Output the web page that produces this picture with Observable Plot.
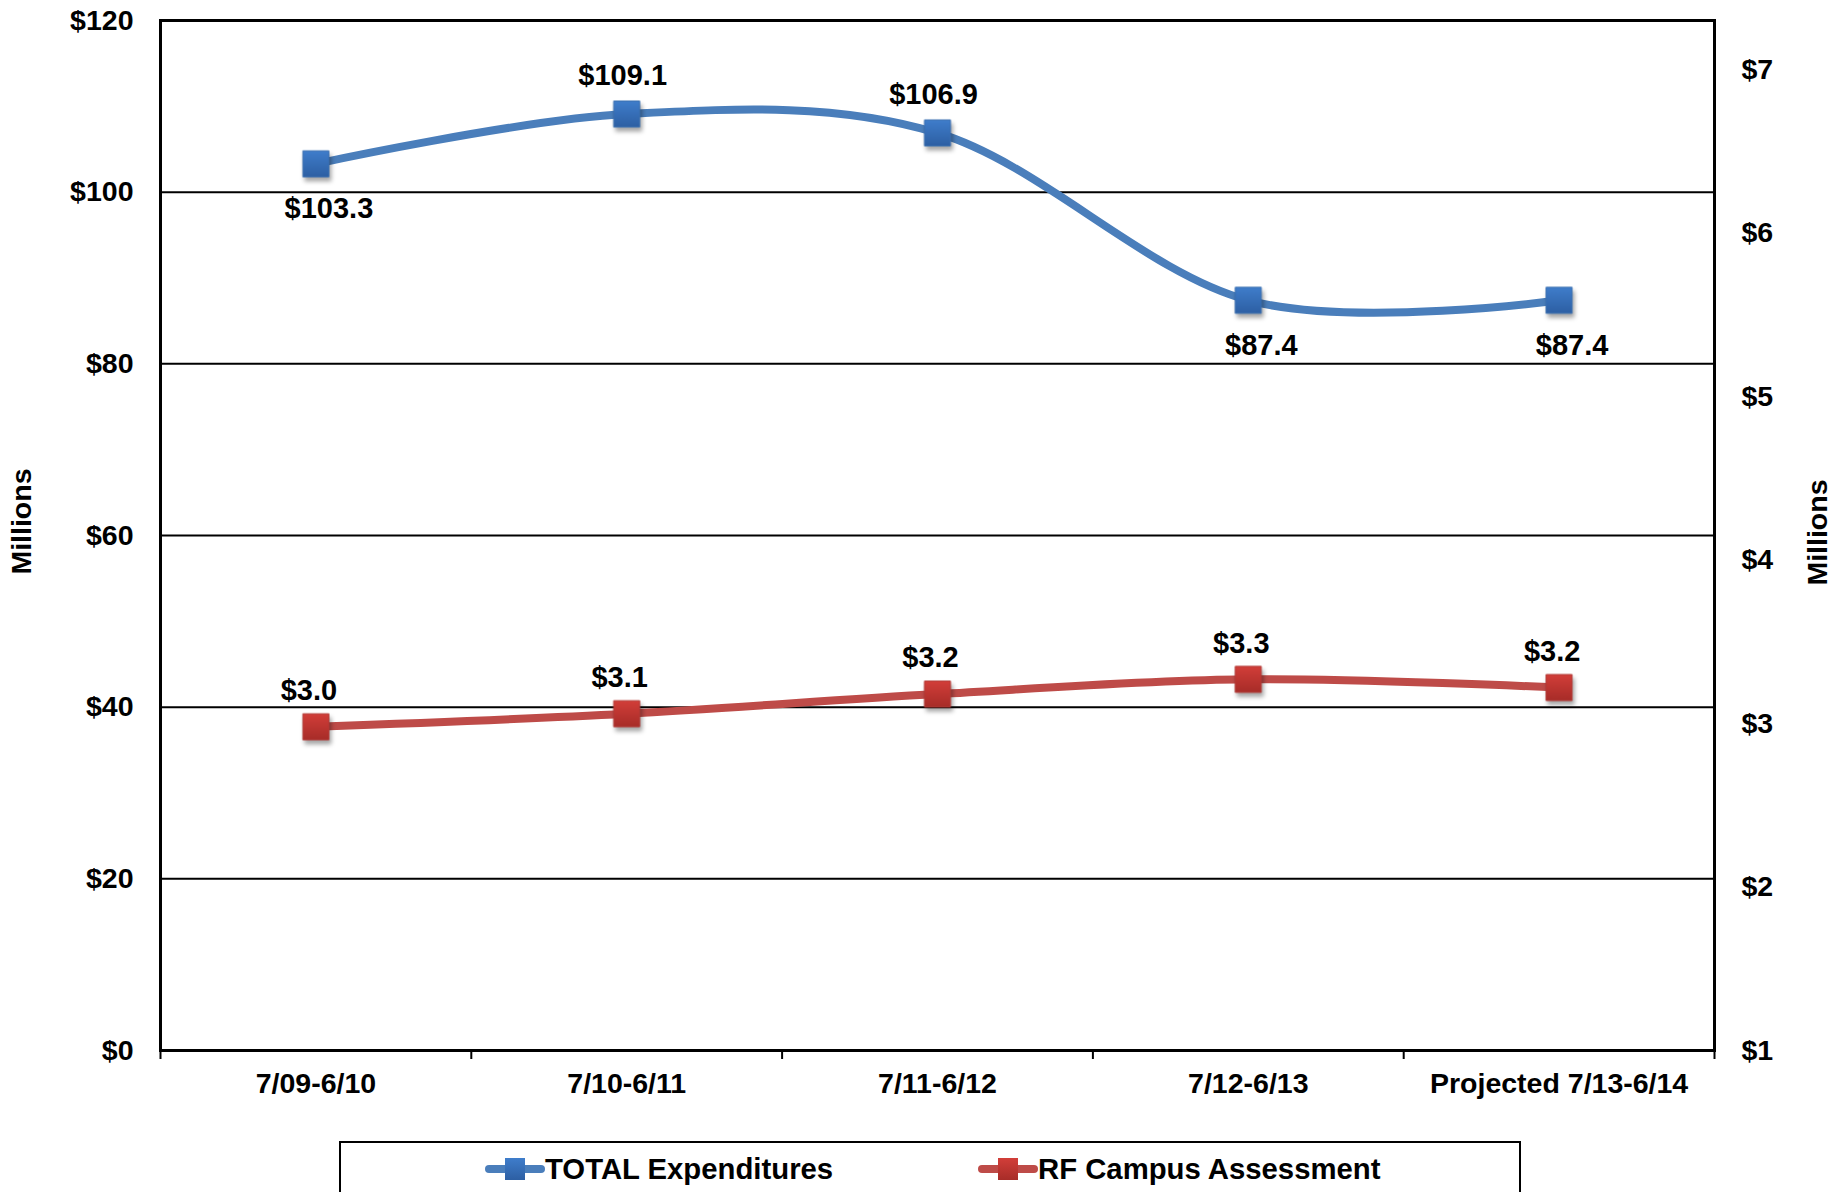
<!DOCTYPE html>
<html>
<head>
<meta charset="utf-8">
<script src="https://cdn.jsdelivr.net/npm/d3@7"></script>
<script src="https://cdn.jsdelivr.net/npm/@observablehq/plot@0.6"></script>
<style>
  html, body { margin: 0; padding: 0; background: #fff; }
  body { width: 1835px; height: 1192px; overflow: hidden; font-family: "Liberation Sans", Arial, sans-serif; font-weight: bold; }
  #chart svg { display: block; }
  .shadow { filter: drop-shadow(2px 4px 2px rgba(0,0,0,0.35)); }
  #legend {
    position: absolute; left: 339px; top: 1141px; width: 1182px; height: 60px;
    border: 2px solid #000; box-sizing: border-box; background: #fff;
    font-size: 29.3px; color: #000;
  }
  .item { position: absolute; top: 9px; display: flex; align-items: center; height: 34px; }
</style>
</head>
<body>
<div id="chart"></div>
<div id="legend"></div>
<script>
// ---- data ----
const categories = ["7/09-6/10", "7/10-6/11", "7/11-6/12", "7/12-6/13", "Projected 7/13-6/14"];
const totalExpenditures = [103.3, 109.1, 106.9, 87.4, 87.4];
const rfCampusAssessment = [2.98, 3.06, 3.18, 3.27, 3.22];
const totalLabelPos = ["below", "above", "above", "below", "below"];
const leftTicks = [0, 20, 40, 60, 80, 100, 120];
const rightTicks = [1, 2, 3, 4, 5, 6, 7];
const seriesNames = ["TOTAL Expenditures", "RF Campus Assessment"];

// ---- scales mapping ----
const LEFT_MAX = 120;
const RIGHT_MIN = 1, RIGHT_MAX = 7.3;
const toLeft = v => (v - RIGHT_MIN) / (RIGHT_MAX - RIGHT_MIN) * LEFT_MAX;
const fromLeft = y => y / LEFT_MAX * (RIGHT_MAX - RIGHT_MIN) + RIGHT_MIN;

const blue = totalExpenditures.map((v, i) => ({i, x: i + 0.5, y: v, label: "$" + v.toFixed(1), pos: totalLabelPos[i]}));
const red = rfCampusAssessment.map((v, i) => ({i, x: i + 0.5, y: toLeft(v), label: "$" + v.toFixed(1)}));

const TICKFONT = 28.5;
const LABELFONT = 29;
const blueLine = "#4A7EBB", redLine = "#BE4B48";

const plot = Plot.plot({
  width: 1835,
  height: 1130,
  marginLeft: 160,
  marginRight: 121,
  marginTop: 20,
  marginBottom: 80,
  style: {fontFamily: '"Liberation Sans", Arial, sans-serif', fontWeight: "bold", fontSize: TICKFONT + "px", color: "#000", background: "#fff"},
  x: {domain: [0, categories.length], axis: null},
  y: {domain: [0, LEFT_MAX], axis: null},
  marks: [
    Plot.ruleY(leftTicks.filter(d => d > 0 && d < LEFT_MAX), {stroke: "#000", strokeWidth: 2}),
    Plot.frame({stroke: "#000", strokeWidth: 3}),
    // x ticks at band boundaries
    Plot.axisX(d3.range(categories.length + 1), {anchor: "bottom", tickSize: 9, tickFormat: () => "", stroke: "#000", strokeWidth: 2, label: null}),
    Plot.axisX(categories.map((c, i) => i + 0.5), {anchor: "bottom", tickSize: 0, tickPadding: 22, tickFormat: d => categories[Math.floor(d)], fontSize: TICKFONT, label: null}),
    Plot.axisY(leftTicks, {anchor: "left", tickSize: 0, tickPadding: 27, tickFormat: d => "$" + d, fontSize: TICKFONT, label: null}),
    Plot.axisY(rightTicks.map(toLeft), {anchor: "right", tickSize: 0, tickPadding: 27, tickFormat: d => "$" + Math.round(fromLeft(d)), fontSize: TICKFONT, label: null}),
    Plot.text(["Millions"], {frameAnchor: "left", textAnchor: "middle", dx: -139, dy: -14, rotate: -90, fontSize: TICKFONT, fontWeight: "bold"}),
    Plot.text(["Millions"], {frameAnchor: "right", textAnchor: "middle", dx: 103, dy: -3, rotate: -90, fontSize: TICKFONT, fontWeight: "bold"}),
    // lines
    Plot.line(blue, {x: "x", y: "y", stroke: blueLine, strokeWidth: 8, curve: "cardinal", tension: 0}),
    Plot.line(red, {x: "x", y: "y", stroke: redLine, strokeWidth: 8, curve: "cardinal", tension: 0}),
    Plot.dot(blue, {x: "x", y: "y", symbol: "square", r: 14.7, fill: "url(#gBlue)", stroke: "#3A6FB0", strokeWidth: 1, className: "shadow"}),
    Plot.dot(red, {x: "x", y: "y", symbol: "square", r: 14.7, fill: "url(#gRed)", stroke: "#B23A36", strokeWidth: 1, className: "shadow"}),
    // data labels
    Plot.text(blue.filter(d => d.pos === "above"), {x: "x", y: "y", text: "label", dy: -38, dx: -4, fontSize: LABELFONT, fontWeight: "bold", fill: "#000"}),
    Plot.text(blue.filter(d => d.pos === "below"), {x: "x", y: "y", text: "label", dy: 45, dx: 13, fontSize: LABELFONT, fontWeight: "bold", fill: "#000"}),
    Plot.text(red, {x: "x", y: "y", text: "label", dy: -36, dx: -7, fontSize: LABELFONT, fontWeight: "bold", fill: "#000"})
  ]
});

// gradients for marker fills
const defs = d3.select(plot).insert("defs", ":first-child");
function grad(id, top, bottom) {
  const g = defs.append("linearGradient").attr("id", id).attr("x1", 0).attr("y1", 0).attr("x2", 0).attr("y2", 1);
  g.append("stop").attr("offset", "0%").attr("stop-color", top);
  g.append("stop").attr("offset", "100%").attr("stop-color", bottom);
}
grad("gBlue", "#3F7DCB", "#2D5FA3");
grad("gRed", "#D23E39", "#A72C28");

document.getElementById("chart").appendChild(plot);

// legend
const legend = document.getElementById("legend");
const lineColors = [blueLine, redLine];
const lefts = [144, 637];
seriesNames.forEach((name, k) => {
  const item = document.createElement("div");
  item.className = "item";
  item.style.left = lefts[k] + "px";
  item.innerHTML = `<svg width="60" height="34" style="display:block">
    <defs>
      <linearGradient id="lg${k}" x1="0" y1="0" x2="0" y2="1">
        <stop offset="0%" stop-color="${k ? "#D23E39" : "#3F7DCB"}"/>
        <stop offset="100%" stop-color="${k ? "#A72C28" : "#2D5FA3"}"/>
      </linearGradient>
    </defs>
    <line x1="4" y1="17" x2="56" y2="17" stroke="${lineColors[k]}" stroke-width="8" stroke-linecap="round"/>
    <rect x="20" y="6" width="20" height="22" fill="url(#lg${k})"/>
  </svg><span>${name}</span>`;
  legend.appendChild(item);
});
</script>
</body>
</html>
